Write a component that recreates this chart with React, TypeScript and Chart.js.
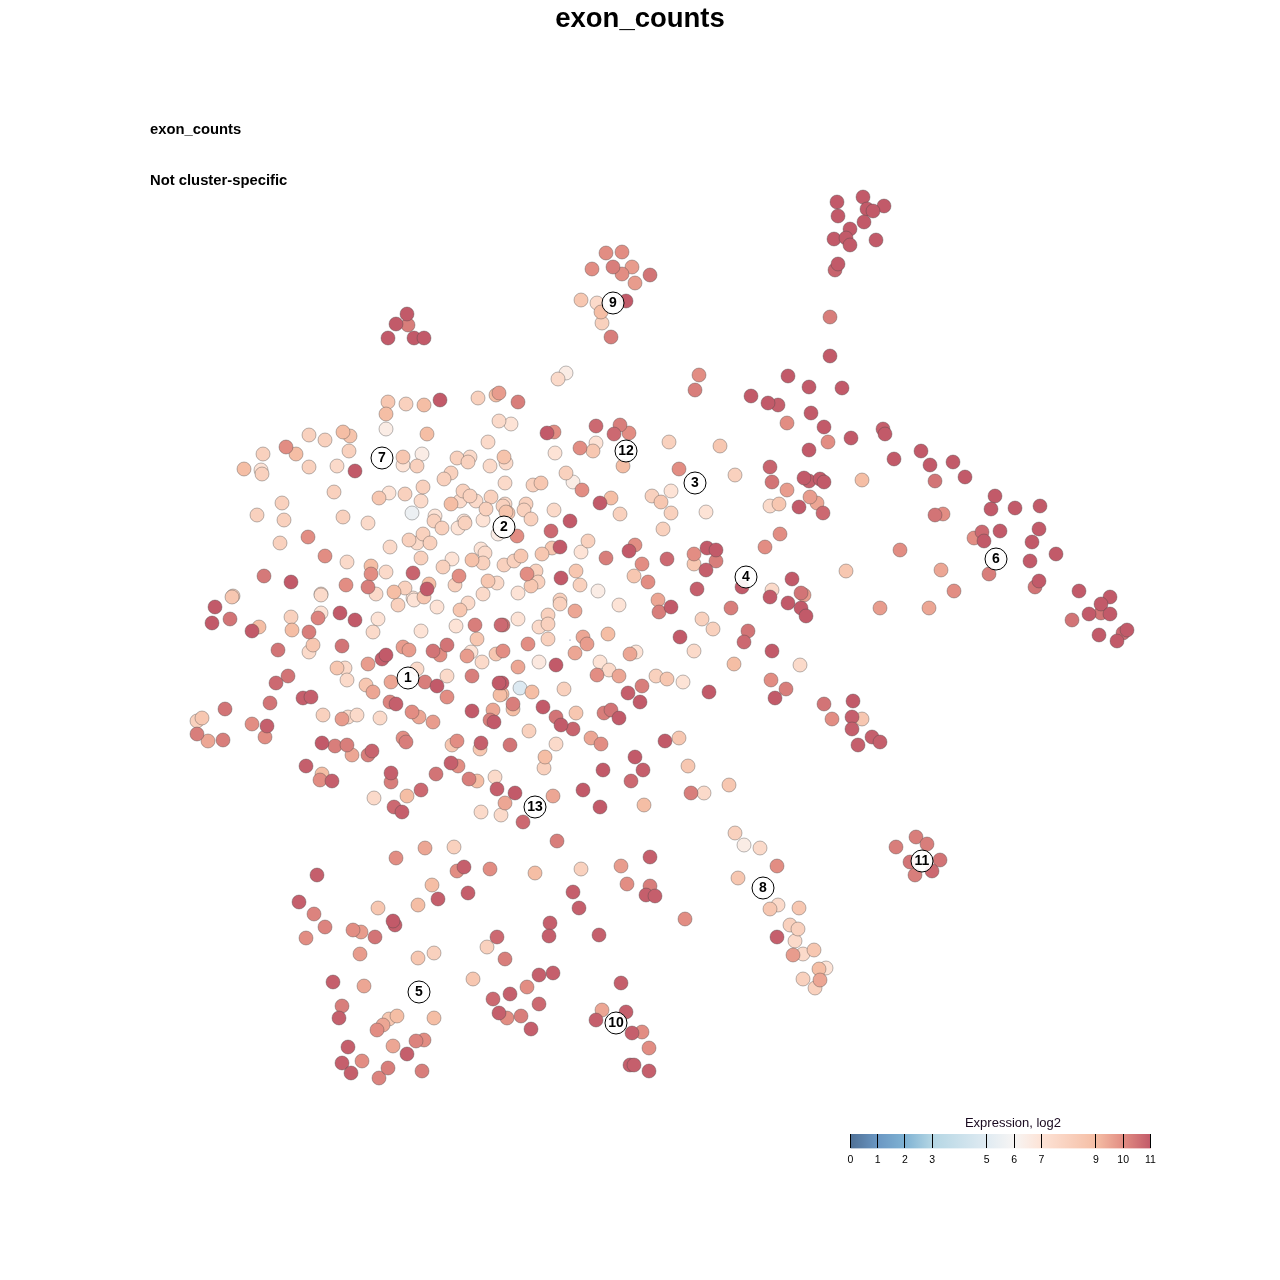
import React, { useEffect, useRef } from "react";
import { Chart, registerables } from "chart.js";

Chart.register(...registerables);

const plotTitle = "exon_counts";
const geneLabel = "exon_counts";
const specificityLabel = "Not cluster-specific";
const legendTitle = "Expression, log2";
const legendTicks = [0, 1, 2, 3, 5, 6, 7, 9, 10, 11];
const legendColours = ["#4f7096", "#6a97c3", "#7fb2d3", "#b4d6e4", "#e0ebf2", "#f7f5f4", "#fde3d6", "#f5bea5", "#e28d83", "#c25a69"];

const clusterNames = ["1", "2", "3", "4", "5", "6", "7", "8", "9", "10", "11", "12", "13"];
const clusterX = [408, 504, 695, 746, 419, 996, 382, 763, 613, 616, 922, 626, 535];
const clusterY = [678, 527, 483, 577, 992, 559, 458, 888, 303, 1023, 861, 451, 807];

// each cell: [tSNE x, tSNE y, log2 expression]
const upperLeftCells = [
  [388,402,8.5],[406,404,8],[424,405,9],[440,400,11],[478,398,8],[496,395,9],[499,393,9.7],[386,414,9],[386,429,6.5],[427,434,9],
  [499,421,7.5],[309,435,8],[325,440,8],[343,432,9],[350,436,8.7],[286,447,10],[296,454,9],[263,454,8],[349,451,8],[244,469,9],
  [261,470,7],[262,474,8],[309,467,8],[337,466,7.5],[355,471,11],[403,457,8.5],[422,454,6.5],[403,465,7],[417,466,8],[488,442,7.5],
  [457,458,8],[470,457,7.5],[468,462,8],[490,466,7.5],[504,457,8.7],[506,463,7.5],[451,473,8],[444,479,8],[334,492,8],[389,493,7],
  [379,498,8.5],[405,494,8],[423,487,8],[421,501,7.5],[282,503,8],[257,515,8],[284,520,8],[343,517,8],[368,523,7.5],[412,513,5.5],
  [463,491,8],[470,496,8],[476,501,7.5],[460,501,7.5],[451,504,9],[491,497,8],[486,509,8],[503,506,8],[506,512,8.7],[483,520,7],
  [435,516,7],[434,521,8],[442,528,8],[464,521,7],[465,523,8],[458,528,7],[498,534,6.5],[280,543,8],[308,537,10],[325,556,10],
  [347,562,7.5],[390,547,7.5],[409,540,8],[423,534,8],[417,543,7.5],[430,543,8],[421,558,8],[481,549,7],[485,553,7.5],[452,559,7],
  [443,567,8],[472,560,8.8],[483,563,8],[504,565,8],[371,566,9],[371,574,10],[386,572,7.5],[413,573,10.8],[264,576,10.4],[291,582,11],
  [346,585,10],[368,587,10.3],[376,594,7.5],[394,592,9],[405,588,8],[429,584,9],[427,589,11],[459,576,10],[455,585,8],[488,581,8.5],
  [497,583,7.5],[321,594,7.5],[233,596,8],[483,594,7.5],[424,597,8.5],[413,598,7],[468,603,7.5],[232,597,8.5],[398,605,8],[414,600,7],
];

const upperCentreCells = [
  [566,373,6.5],[558,379,7.5],[699,375,10],[695,390,10.3],[518,402,10.3],[511,424,7],[554,432,10],[547,433,11],[596,426,10.7],[620,425,10.3],
  [629,433,10],[614,434,10.7],[596,443,7],[580,448,10],[593,451,8.5],[555,453,7],[669,442,8],[720,446,8.5],[623,466,9],[679,469,10],
  [735,475,8],[566,473,8],[573,482,6.5],[582,490,10],[505,483,7.5],[533,485,8],[541,483,8.5],[611,498,9],[600,503,11],[652,496,8],
  [661,502,8.5],[671,491,7],[671,513,8],[706,512,7],[620,514,8],[554,510,7.5],[570,521,11],[551,531,10.7],[526,504,8],[524,510,8],
  [531,519,8],[505,504,7.5],[508,513,8.5],[663,529,8],[517,536,10],[588,541,8],[581,552,7],[560,547,11],[552,548,8.5],[542,554,8.5],
  [635,545,10],[629,551,11],[606,558,10.3],[667,559,10.7],[694,554,10],[707,548,11],[716,550,11],[716,561,10.3],[694,564,8.5],[706,570,10.9],
  [642,564,10],[634,576,8.5],[648,582,10],[521,556,8.5],[514,561,8],[536,571,8],[527,574,10],[538,582,8],[531,586,8.5],[518,593,7],
  [561,578,11],[576,571,8.5],[580,585,8],[598,591,6.5],[697,589,10.9],[742,587,11],[560,600,8],
];

const middleCentreCells = [
  [560,604,8],[575,611,9.5],[619,605,7],[518,619,7],[548,615,8],[539,627,7.5],[548,624,8],[548,639,8],[503,625,10.5],[658,600,9.5],
  [659,612,10.3],[671,607,11],[731,608,10.3],[702,619,8],[713,629,8],[748,631,10.5],[744,642,10.7],[680,637,11],[608,634,9],[583,637,9.5],
  [587,644,9.7],[575,653,9.5],[528,644,10],[503,651,10],[694,651,7.5],[772,651,11],[636,652,7],[630,654,9.5],[600,662,7],[609,670,7.5],
  [539,662,6.7],[556,665,11],[518,667,9.5],[597,675,10],[619,676,9.5],[734,664,9],[800,665,7.5],[656,676,8],[667,679,8.5],[683,682,7],
  [642,686,10.3],[628,693,10.9],[640,702,11],[709,692,11],[771,680,10],[786,689,10.3],[775,698,11],[824,704,10.5],[832,719,10],[520,688,4.8],
  [532,692,9],[564,689,8],[502,683,11],[502,694,9],[513,704,10.3],[513,709,9],[543,707,11],[576,713,8.5],[556,717,10.5],[561,725,11],
  [573,729,10.8],[611,710,10.5],[604,713,10.3],[619,718,11],[529,731,8],[591,738,9.5],[601,744,10],[510,745,10.5],[556,744,7.5],[665,741,11],
  [679,738,8.5],[545,757,9],[544,768,8],[635,757,11],[643,770,10.9],[631,781,10.7],[603,770,11],[688,766,8.5],[729,785,8.5],[583,790,11],
  [691,793,10.3],[704,793,7.5],[515,793,11],[553,796,9.5],[600,807,11],[644,805,9],[505,803,9.5],[523,822,10.7],[853,701,11],[852,717,10.9],
  [862,719,8.5],[852,729,10.9],[872,737,10.9],[880,742,10.9],[858,745,10.9],
];

const middleLeftCells = [
  [215,607,11],[212,623,11],[230,619,10.5],[259,627,9],[252,631,11],[291,617,8],[292,630,9],[309,632,10.3],[321,613,7],[318,618,10.2],
  [340,613,11],[355,620,11],[321,595,7.5],[378,619,7],[373,632,7.5],[437,607,7],[460,610,8.5],[456,626,7],[475,625,10.3],[501,625,10.7],
  [421,631,7],[477,639,8.5],[278,650,10.5],[309,652,7.5],[313,645,8.5],[342,646,10.5],[368,664,9.7],[386,655,11],[382,659,10.9],[403,647,9.7],
  [409,650,9.7],[433,651,10.5],[447,645,10.5],[440,655,10],[467,656,9.7],[471,652,7],[482,662,7.5],[496,654,8.5],[337,668,8.5],[345,668,7.5],
  [347,680,7.5],[288,676,10.5],[276,683,10.7],[366,685,8.5],[373,692,9.5],[391,682,9.5],[417,669,7.5],[425,682,10.3],[437,686,11],[447,676,7.5],
  [447,697,10],[472,676,10.3],[499,683,11],[500,695,9],[270,703,10.5],[303,698,10.9],[311,697,10.9],[390,702,10.2],[396,704,10.9],[225,709,10.5],
  [202,718,8.5],[197,721,8],[197,734,10.3],[208,741,9.5],[223,740,10.3],[252,724,10],[267,726,10.9],[265,737,10],[323,715,8],[342,719,9.7],
  [348,717,7.5],[357,715,7.5],[380,718,7.5],[412,712,10],[419,717,9.5],[433,722,9.7],[472,711,11],[493,710,9.5],[490,720,10.3],[494,722,11],
  [403,738,10],[406,742,10.3],[322,743,11],[335,746,10.3],[347,745,10.3],[352,755,9.5],[368,755,10.3],[372,751,10.8],[452,745,8.5],[457,741,10],
  [480,749,8.5],[481,743,10.9],[306,766,10.9],[322,774,9],[320,780,10],[332,781,10.9],[391,773,10.9],[391,782,10.3],[451,763,10.9],[458,766,10],
  [436,774,10.5],[469,779,10.3],[477,781,9],[495,777,7.5],[497,789,10.9],[421,790,10.7],[407,796,9],[374,798,7.5],[394,807,10.7],[402,812,10.9],
  [481,812,7.5],[501,815,7.5],
];

const bottomCells = [
  [557,841,10.3],[396,858,10],[425,848,9.5],[454,847,8],[317,875,10.9],[464,867,10.9],[457,871,10],[490,869,10],[535,873,9],[581,869,8],
  [621,866,9.7],[650,857,10.9],[432,885,9],[468,893,10.9],[438,899,10.9],[573,892,10.9],[627,884,10],[650,886,10.3],[646,895,10.9],[655,896,10.9],
  [299,902,10.9],[418,905,9],[378,908,8.5],[579,908,10.9],[685,919,10],[314,914,10.2],[325,927,10.2],[306,938,10],[353,930,10],[361,932,9.7],
  [375,937,10.5],[393,921,11],[395,925,10.9],[550,923,10.9],[549,936,10.9],[599,935,10.9],[497,937,10.7],[487,947,8],[505,959,10.3],[360,954,9.7],
  [418,958,8.5],[434,953,8],[473,979,8.5],[553,973,10.9],[539,975,10.9],[527,987,10],[333,982,10.9],[364,986,9.5],[510,994,10.9],[493,999,10.7],
  [621,983,10.9],[539,1004,10.7],[342,1006,10.3],[339,1018,10.9],[499,1013,10.9],[507,1018,10],[521,1016,10.3],[531,1029,10.9],[434,1018,9],[397,1016,9],
  [389,1019,8.5],[383,1025,9.5],[377,1030,10],[602,1010,9.5],[626,1012,10.9],[596,1020,10.9],[632,1033,10.9],[642,1032,10],[649,1048,10],[424,1040,10],
  [416,1041,10.2],[393,1046,9.5],[348,1047,10.9],[407,1054,10.9],[362,1061,10],[342,1063,10.9],[351,1073,10.9],[388,1068,10.3],[379,1078,10.2],[422,1071,10.3],
  [630,1065,10.9],[634,1065,10.9],[649,1071,10.9],
];

const rightCells = [
  [751,396,11],[768,403,11],[778,405,10.9],[788,376,11],[809,387,11],[842,388,11],[811,413,11],[787,423,10],[824,427,11],[883,429,10.9],
  [885,434,11],[828,442,10],[851,438,11],[809,450,11],[894,459,11],[921,451,11],[930,465,11],[953,462,11],[935,481,10.5],[965,477,11],
  [770,467,10.8],[772,482,10.5],[787,490,9.7],[804,478,11],[809,481,10.9],[820,479,11],[824,482,11],[862,480,9],[810,497,9.7],[817,503,9.5],
  [799,507,11],[823,513,10.7],[770,506,7.5],[779,504,8.5],[995,496,11],[991,509,11],[1015,508,11],[1040,506,11],[1039,529,11],[1000,531,11],
  [1032,542,11],[1056,554,11],[1030,561,11],[982,532,10.7],[974,538,10],[984,541,11],[943,514,10],[935,515,10.5],[780,534,10],[765,547,10],
  [900,550,10],[846,571,8.5],[941,570,9.5],[989,574,10.3],[954,591,10],[792,579,11],[801,593,10.5],[804,595,9.7],[770,597,11],[772,590,7.5],
  [788,603,11],[801,608,11],[806,616,11],[880,608,9.7],[929,608,9.5],[1039,581,11],[1035,587,10.5],[1079,591,11],[1110,597,11],[1101,604,11],
  [1101,613,10.5],[1110,614,11],[1089,614,11],[1072,620,10.5],[1099,635,11],[1117,641,11],[1123,633,10.7],[1127,630,11],
];

const lowerRightCells = [
  [735,833,8],[744,845,6.5],[760,848,7.5],[777,866,10],[738,878,8.5],[778,905,7.5],[770,909,8.5],[799,908,8.5],[790,925,8],[798,929,8],
  [777,937,10.9],[795,941,7.5],[814,950,8.5],[803,954,7.5],[793,955,9.7],[826,968,7],[819,969,9],[803,979,8],[820,980,9.5],[815,988,8],
  [916,837,10.3],[927,844,10.3],[896,847,10.3],[910,862,10.5],[940,860,10.5],[932,871,10.7],[915,875,10.3],
];

const topCells = [
  [837,202,11],[863,197,11],[884,206,11],[867,209,11],[873,211,11],[838,216,11],[864,222,11],[850,229,11],[834,239,11],[846,238,11],
  [850,245,11],[876,240,11],[838,264,11],[835,270,10.8],[830,317,10.3],[830,356,11],
  [606,253,10],[622,252,10],[613,267,10.3],[632,267,9.7],[592,269,10],[622,274,10],[650,275,10.5],[635,283,9.7],[581,300,8.5],[597,303,7.5],
  [626,301,11],[601,312,9],[602,323,8],[611,337,10.3],
  [407,314,11],[396,324,11],[408,325,10.3],[388,338,11],[414,338,11],[424,338,11],
];

const stray = [[570, 640]];

const allCells = [...upperLeftCells, ...upperCentreCells, ...middleCentreCells, ...middleLeftCells, ...bottomCells, ...rightCells, ...lowerRightCells, ...topCells]
  .slice()
  .sort((a, b) => a[2] - b[2]);

function hexToRgb(h: string) {
  return [parseInt(h.slice(1, 3), 16), parseInt(h.slice(3, 5), 16), parseInt(h.slice(5, 7), 16)];
}

function expressionColour(v: number) {
  let i = 0;
  while (i < legendTicks.length - 2 && v > legendTicks[i + 1]) i++;
  const t = Math.min(1, Math.max(0, (v - legendTicks[i]) / (legendTicks[i + 1] - legendTicks[i])));
  const a = hexToRgb(legendColours[i]);
  const b = hexToRgb(legendColours[i + 1]);
  const c = a.map((x, k) => Math.round(x + (b[k] - x) * t));
  return `rgb(${c[0]},${c[1]},${c[2]})`;
}

const FONT = "'Liberation Sans', Arial, sans-serif";

const clusterLabelPlugin = {
  id: "clusterLabels",
  afterDatasetsDraw(chart: any) {
    const { ctx } = chart;
    const meta = chart.getDatasetMeta(0);
    ctx.save();
    ctx.fillStyle = "#000";
    ctx.font = `bold 14px ${FONT}`;
    ctx.textAlign = "center";
    ctx.textBaseline = "middle";
    meta.data.forEach((el: any, i: number) => ctx.fillText(clusterNames[i], el.x, el.y + 0.5));
    ctx.font = `bold 14.8px ${FONT}`;
    ctx.textAlign = "left";
    ctx.fillText(geneLabel, 150, 130);
    ctx.fillText(specificityLabel, 150, 181);
    ctx.restore();
  },
};

const legendGradientPlugin = {
  id: "legendGradient",
  beforeDatasetsDraw(chart: any) {
    const x = chart.scales.x;
    const g = chart.ctx.createLinearGradient(x.getPixelForValue(0), 0, x.getPixelForValue(11), 0);
    legendTicks.forEach((t, i) => g.addColorStop(t / 11, legendColours[i]));
    chart.getDatasetMeta(0).data.forEach((el: any) => {
      el.options.backgroundColor = g;
    });
  },
};

export default function App() {
  const mainRef = useRef<HTMLCanvasElement>(null);
  const legendRef = useRef<HTMLCanvasElement>(null);

  useEffect(() => {
    const main = new Chart(mainRef.current as HTMLCanvasElement, {
      type: "scatter",
      data: {
        datasets: [
          {
            label: "Clusters",
            data: clusterX.map((x, i) => ({ x, y: clusterY[i] })),
            pointRadius: 11,
            pointBorderWidth: 1,
            pointBackgroundColor: "rgba(255,255,255,0.92)",
            pointBorderColor: "#000",
          },
          {
            label: "Expression",
            data: allCells.map(([x, y]) => ({ x, y })),
            pointRadius: 7,
            pointBorderWidth: 1,
            pointBackgroundColor: allCells.map((c) => expressionColour(c[2])),
            pointBorderColor: "rgba(70,70,70,0.38)",
          },
          {
            label: "Stray",
            data: stray.map(([x, y]) => ({ x, y })),
            pointRadius: 0.5,
            pointBorderWidth: 0,
            pointBackgroundColor: "#34507a",
          },
        ],
      },
      options: {
        responsive: false,
        animation: false,
        events: [],
        layout: { padding: 0, autoPadding: false },
        plugins: {
          legend: { display: false },
          tooltip: { enabled: false },
          title: {
            display: true,
            text: plotTitle,
            color: "#000",
            font: { family: FONT, size: 27.5, weight: "bold" },
            padding: { top: 2.5, bottom: 0.5 },
          },
        },
        scales: {
          x: { type: "linear", min: 0, max: 1280, display: false },
          y: { type: "linear", min: 36, max: 1280, reverse: true, display: false },
        },
      },
      plugins: [clusterLabelPlugin],
    } as any);

    const legend = new Chart(legendRef.current as HTMLCanvasElement, {
      type: "bar",
      data: {
        labels: ["Expression"],
        datasets: [
          {
            data: [[legendTicks[0], legendTicks[legendTicks.length - 1]]],
            barPercentage: 1,
            categoryPercentage: 1,
            borderWidth: 0,
            backgroundColor: "#f7f5f4",
          },
        ],
      },
      options: {
        indexAxis: "y",
        responsive: false,
        animation: false,
        events: [],
        layout: { padding: { left: 0, right: 0, top: 0, bottom: 4 }, autoPadding: false },
        plugins: {
          legend: { display: false },
          tooltip: { enabled: false },
          title: {
            display: true,
            text: legendTitle,
            color: "#1a0a20",
            font: { family: FONT, size: 13, weight: "normal" },
            padding: { top: 0.4, bottom: 3 },
          },
        },
        scales: {
          y: { display: false },
          x: {
            type: "linear",
            min: -1.367,
            max: 13.29,
            afterBuildTicks: (axis: any) => {
              axis.ticks = legendTicks.map((value) => ({ value }));
            },
            border: { display: false },
            grid: { color: "#000", lineWidth: 1, drawTicks: false, z: 1 },
            ticks: {
              autoSkip: false,
              maxRotation: 0,
              padding: 5,
              color: "#000",
              font: { family: FONT, size: 10.5 },
            },
          },
        },
      },
      plugins: [legendGradientPlugin],
    } as any);

    return () => {
      main.destroy();
      legend.destroy();
    };
  }, []);

  return (
    <div style={{ position: "absolute", left: 0, top: 0, width: 1280, height: 1280, background: "#fff" }}>
      <canvas ref={mainRef} width={1280} height={1280} style={{ position: "absolute", left: 0, top: 0 }} />
      <canvas ref={legendRef} width={400} height={60} style={{ position: "absolute", left: 813, top: 1115 }} />
    </div>
  );
}
